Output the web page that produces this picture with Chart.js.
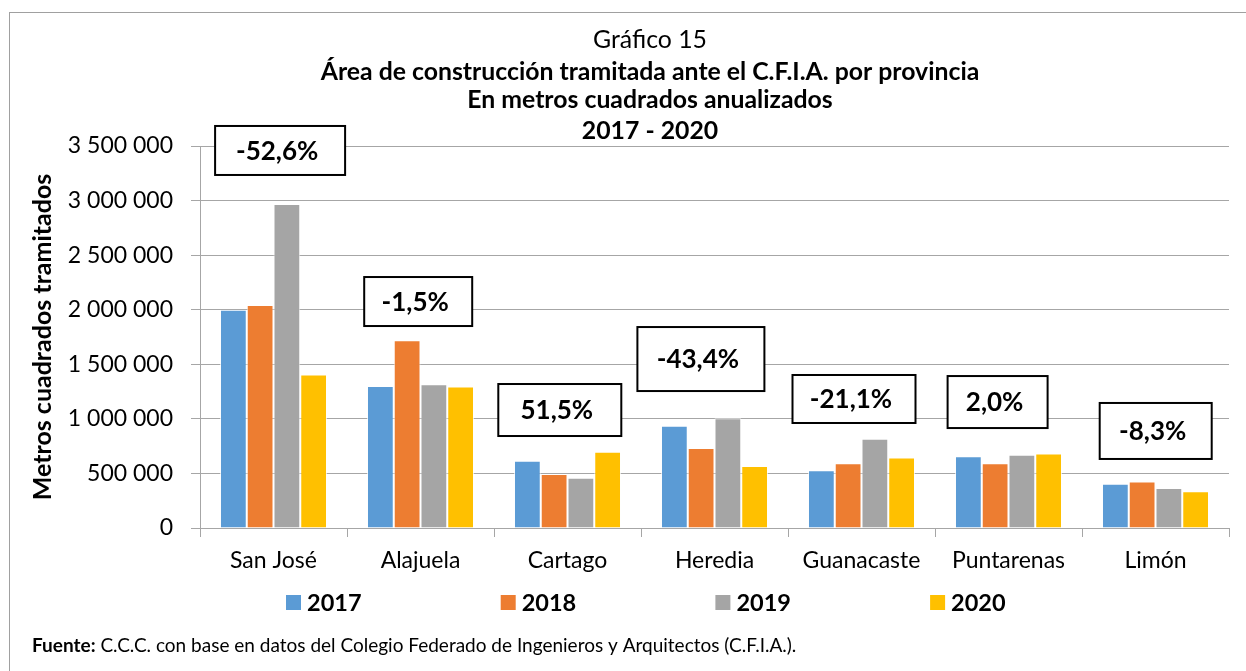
<!DOCTYPE html>
<html>
<head>
<meta charset="utf-8">
<script src="https://cdn.jsdelivr.net/npm/chart.js@4.4.1/dist/chart.umd.min.js"></script>
<style>
  html, body { margin: 0; padding: 0; background: #fff; }
  canvas { display: block; }
</style>
</head>
<body>
<canvas id="c" width="1246" height="671"></canvas>
<script>
// ---- data ----
const categories = ['San José', 'Alajuela', 'Cartago', 'Heredia', 'Guanacaste', 'Puntarenas', 'Limón'];
const seriesNames = ['2017', '2018', '2019', '2020'];
const values2017 = [2000000, 1301000, 617000, 937000, 528000, 657000, 406000];
const values2018 = [2043000, 1720000, 495000, 733000, 593000, 593000, 425000];
const values2019 = [2969000, 1317000, 461000, 1005000, 818000, 670000, 367000];
const values2020 = [1407000, 1297000, 699000, 568000, 645000, 683500, 337000];
const changeLabels = ['-52,6%', '-1,5%', '51,5%', '-43,4%', '-21,1%', '2,0%', '-8,3%'];
const yTicksMax = 3500000;
const yTicksStep = 500000;

const titleLines = ['Gráfico 15', 'Área de construcción tramitada ante el C.F.I.A. por provincia', 'En metros cuadrados anualizados', '2017 - 2020'];
const yAxisTitle = 'Metros cuadrados tramitados';
const sourceBold = 'Fuente:';
const sourceText = ' C.C.C. con base en datos del Colegio Federado de Ingenieros y Arquitectos (C.F.I.A.).';

const colors = ['#5B9BD5', '#ED7D31', '#A5A5A5', '#FFC000'];
const FONT = 'Lato, "Open Sans", sans-serif';

// annotation box layout: offset from category centre (px), centre value on y, size (px)
const boxLayout = [
  { dx: 6.6,   yv: 3459000, w: 130, h: 49 },
  { dx: -2.3,  yv: 2075000, w: 108, h: 49 },
  { dx: -7.7,  yv: 1081000, w: 123, h: 52 },
  { dx: -13.6, yv: 1548000, w: 127, h: 64 },
  { dx: -7.5,  yv: 1182000, w: 123, h: 48 },
  { dx: -10.9, yv: 1154000, w: 100, h: 52 },
  { dx: 0.2,   yv: 889000,  w: 112, h: 56 }
];

const allSeries = [values2017, values2018, values2019, values2020];

const decorPlugin = {
  id: 'decor',
  beforeDraw(chart) {
    const ctx = chart.ctx;
    ctx.save();
    ctx.fillStyle = '#fff';
    ctx.fillRect(0, 0, chart.width, chart.height);
    ctx.strokeStyle = '#a0a0a0';
    ctx.lineWidth = 1;
    ctx.strokeRect(9.5, 12.5, 1400, 800);
    ctx.restore();
  },
  afterDatasetsDraw(chart) {
    const ctx = chart.ctx;
    const xs = chart.scales.x, ys = chart.scales.y;
    ctx.save();
    boxLayout.forEach((b, i) => {
      const cx = xs.getPixelForValue(i) + b.dx;
      const cy = ys.getPixelForValue(b.yv);
      ctx.fillStyle = '#fff';
      ctx.fillRect(cx - b.w / 2, cy - b.h / 2, b.w, b.h);
      ctx.strokeStyle = '#000';
      ctx.lineWidth = 2;
      ctx.strokeRect(cx - b.w / 2, cy - b.h / 2, b.w, b.h);
      ctx.fillStyle = '#000';
      ctx.font = 'bold 26px ' + FONT;
      ctx.textAlign = 'center';
      ctx.textBaseline = 'middle';
      ctx.fillText(changeLabels[i], cx - 3, cy + 1);
    });
    ctx.restore();
  },
  afterDraw(chart) {
    const ctx = chart.ctx;
    ctx.save();
    ctx.fillStyle = '#000';
    ctx.textAlign = 'center';
    ctx.textBaseline = 'middle';
    const tY = [40, 72, 100, 131];
    titleLines.forEach((t, i) => {
      ctx.font = (i === 0 ? '' : 'bold ') + '24.8px ' + FONT;
      ctx.fillText(t, 650, tY[i]);
    });
    // legend
    ctx.textAlign = 'left';
    chart.data.datasets.forEach((ds, i) => {
      const x0 = 286 + i * 214.7;
      ctx.fillStyle = ds.backgroundColor;
      ctx.fillRect(x0, 595, 15, 15);
      ctx.fillStyle = '#000';
      ctx.font = 'bold 23.5px ' + FONT;
      ctx.fillText(ds.label, x0 + 21, 603);
    });
    // source
    ctx.font = 'bold 19px ' + FONT;
    ctx.fillText(sourceBold, 32, 646);
    const w = ctx.measureText(sourceBold).width;
    ctx.font = '19px ' + FONT;
    ctx.fillText(sourceText, 32 + w, 646);
    ctx.restore();
  }
};

new Chart(document.getElementById('c'), {
  type: 'bar',
  data: {
    labels: categories,
    datasets: seriesNames.map((n, i) => ({
      label: n,
      data: allSeries[i],
      backgroundColor: colors[i],
      borderColor: 'rgba(255,255,255,0.7)',
      borderWidth: 1,
      categoryPercentage: 0.728,
      barPercentage: 1.0
    }))
  },
  options: {
    responsive: false,
    animation: false,
    events: [],
    layout: { padding: { top: 146, right: 17, left: 0, bottom: 0 } },
    plugins: {
      legend: { display: false },
      title: { display: false },
      tooltip: { enabled: false }
    },
    scales: {
      x: {
        grid: { display: true, drawOnChartArea: false, drawTicks: true, tickLength: 9, color: '#a6a6a6', offset: true },
        border: { color: '#a6a6a6' },
        ticks: { color: '#000', font: { family: FONT, size: 23 }, padding: 10, maxRotation: 0 },
        afterFit(scale) { scale.height = 143; }
      },
      y: {
        min: 0,
        max: yTicksMax,
        ticks: {
          stepSize: yTicksStep,
          color: '#000',
          font: { family: FONT, size: 23 },
          padding: 18,
          callback: (v) => String(v).replace(/\B(?=(\d{3})+(?!\d))/g, ' ')
        },
        grid: { color: '#a6a6a6', tickLength: 9 },
        border: { color: '#a6a6a6' },
        title: {
          display: true,
          text: yAxisTitle,
          color: '#000',
          font: { family: FONT, size: 25, weight: 'bold' },
          padding: { top: 28, bottom: 0 }
        },
        afterFit(scale) { scale.width = 200; }
      }
    }
  },
  plugins: [decorPlugin]
});
</script>
</body>
</html>
